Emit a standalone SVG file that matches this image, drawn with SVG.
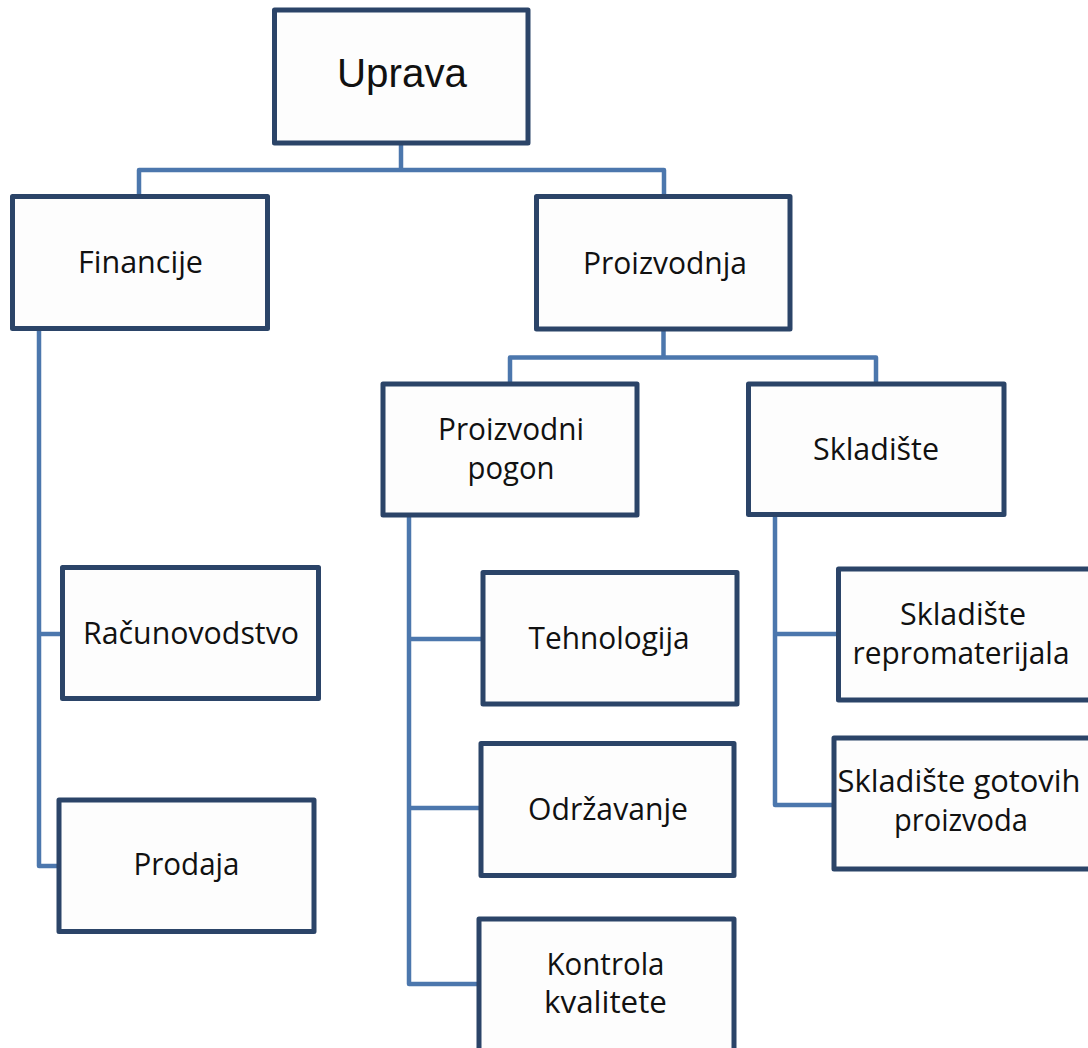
<svg xmlns="http://www.w3.org/2000/svg" width="1088" height="1048" viewBox="0 0 1088 1048">
<style>
.box{fill:#fdfdfd;stroke:#2b4468;stroke-width:5;stroke-linejoin:round}
.con{fill:none;stroke:#4c77ad;stroke-width:4.5;stroke-linejoin:round}
.t{font-family:"Open Sans","Noto Sans","DejaVu Sans",sans-serif;font-size:31px;fill:#111;text-anchor:middle}
.h{font-family:"Liberation Sans",Arial,sans-serif;font-size:40px;fill:#111;text-anchor:middle}
</style>
<rect width="1088" height="1048" fill="#ffffff"/>
<g id="connectors">
<path class="con" d="M401,143 V170"/>
<path class="con" d="M139,196.5 V170 H664 V196.5"/>
<path class="con" d="M663.5,329 V357.5"/>
<path class="con" d="M510,384 V357.5 H876 V384"/>
<path class="con" d="M39,329 V866 H59"/>
<path class="con" d="M39,634 H62.5"/>
<path class="con" d="M409,515 V984 H479"/>
<path class="con" d="M409,639 H483"/>
<path class="con" d="M409,808 H481"/>
<path class="con" d="M775,514.5 V805 H834"/>
<path class="con" d="M775,634 H838.5"/>
</g>
<g id="uprava">
<rect class="box" x="274.5" y="10" width="253.5" height="133"/>
<text class="h" x="402" y="87" textLength="130" lengthAdjust="spacingAndGlyphs">Uprava</text>
</g>
<g id="financije">
<rect class="box" x="12.5" y="196.5" width="255" height="132"/>
<text class="t" x="140.5" y="273" textLength="125" lengthAdjust="spacingAndGlyphs">Financije</text>
</g>
<g id="proizvodnja">
<rect class="box" x="536.5" y="196.5" width="253.5" height="132.5"/>
<text class="t" x="665" y="273.5" textLength="164" lengthAdjust="spacingAndGlyphs">Proizvodnja</text>
</g>
<g id="proizvodni-pogon">
<rect class="box" x="383" y="384" width="254" height="131"/>
<text class="t" x="511" y="440" textLength="146" lengthAdjust="spacingAndGlyphs">Proizvodni</text>
<text class="t" x="511" y="479" textLength="87" lengthAdjust="spacingAndGlyphs">pogon</text>
</g>
<g id="skladiste">
<rect class="box" x="748.5" y="384" width="255.5" height="130.5"/>
<text class="t" x="876" y="460" textLength="126" lengthAdjust="spacingAndGlyphs">Skladište</text>
</g>
<g id="racunovodstvo">
<rect class="box" x="62.5" y="567.5" width="256" height="131"/>
<text class="t" x="191" y="643.5" textLength="216" lengthAdjust="spacingAndGlyphs">Računovodstvo</text>
</g>
<g id="prodaja">
<rect class="box" x="59" y="800" width="255" height="131.5"/>
<text class="t" x="186.5" y="875" textLength="106" lengthAdjust="spacingAndGlyphs">Prodaja</text>
</g>
<g id="tehnologija">
<rect class="box" x="483" y="572.5" width="254" height="131.5"/>
<text class="t" x="609" y="648.5" textLength="161" lengthAdjust="spacingAndGlyphs">Tehnologija</text>
</g>
<g id="odrzavanje">
<rect class="box" x="481" y="743.5" width="253" height="132"/>
<text class="t" x="608" y="819.5" textLength="160" lengthAdjust="spacingAndGlyphs">Održavanje</text>
</g>
<g id="kontrola-kvalitete">
<rect class="box" x="479" y="919" width="255" height="140"/>
<text class="t" x="605.5" y="975" textLength="118" lengthAdjust="spacingAndGlyphs">Kontrola</text>
<text class="t" x="605.5" y="1013" textLength="123" lengthAdjust="spacingAndGlyphs">kvalitete</text>
</g>
<g id="skladiste-repromaterijala">
<rect class="box" x="838.5" y="569" width="260" height="131"/>
<text class="t" x="963" y="625" textLength="126" lengthAdjust="spacingAndGlyphs">Skladište</text>
<text class="t" x="961" y="663.5" textLength="217" lengthAdjust="spacingAndGlyphs">repromaterijala</text>
</g>
<g id="skladiste-gotovih-proizvoda">
<rect class="box" x="834" y="738" width="260" height="131"/>
<text class="t" x="959" y="792" textLength="243" lengthAdjust="spacingAndGlyphs">Skladište gotovih</text>
<text class="t" x="961" y="831" textLength="134" lengthAdjust="spacingAndGlyphs">proizvoda</text>
</g>
</svg>
